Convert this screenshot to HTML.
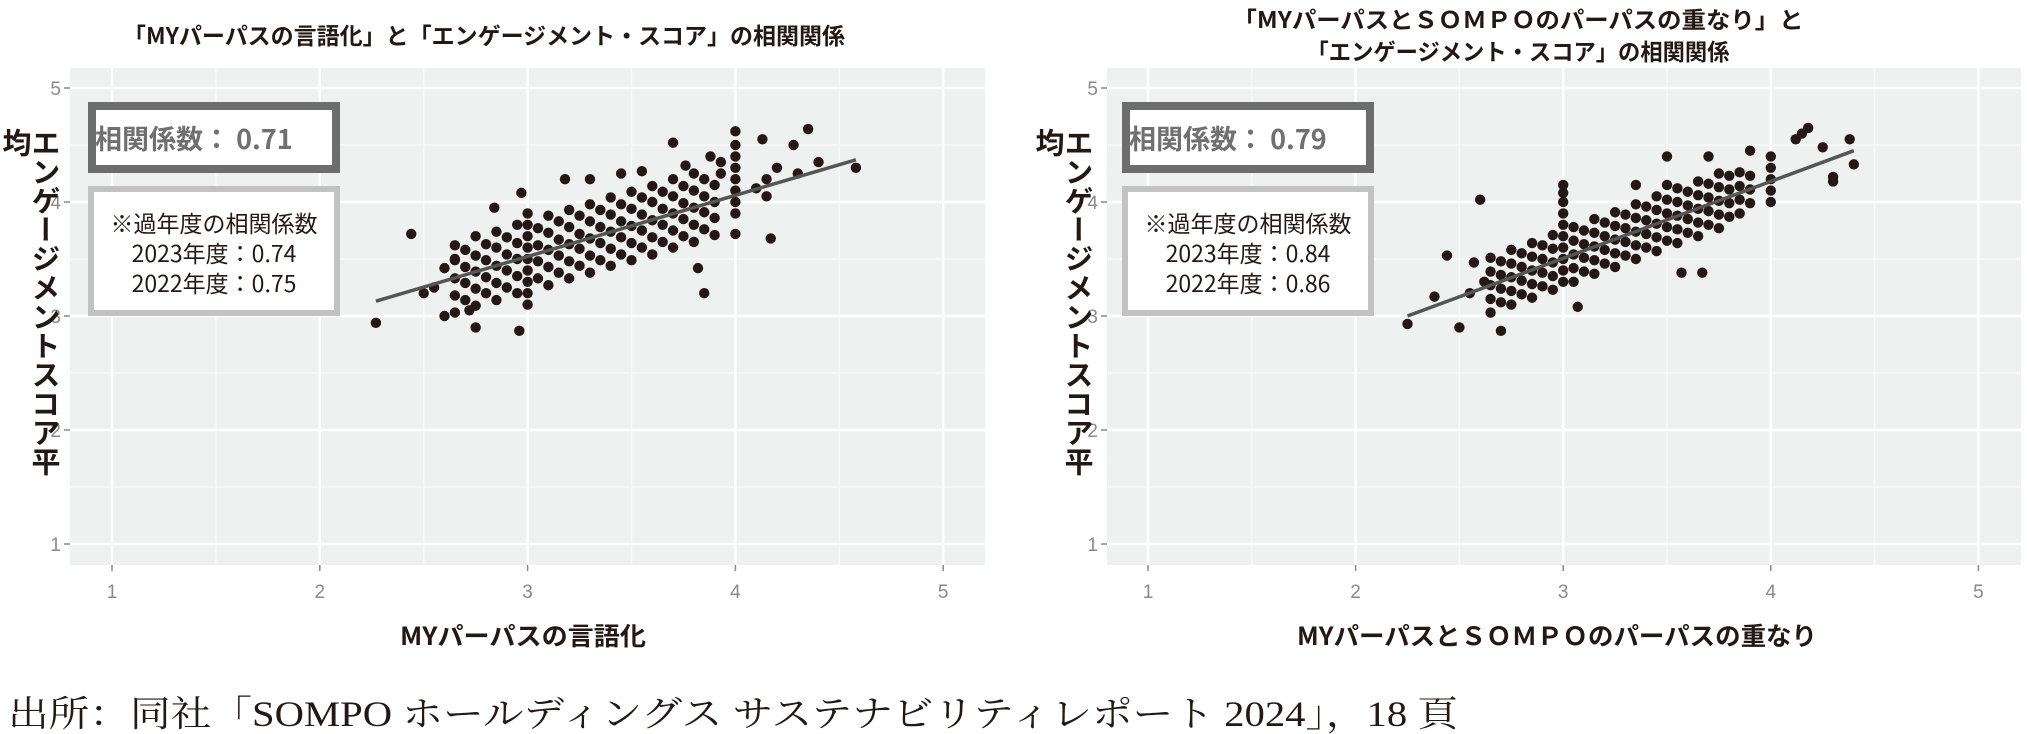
<!DOCTYPE html>
<html><head><meta charset="utf-8">
<style>
html,body{margin:0;padding:0;background:#fff;}
body{width:2027px;height:734px;overflow:hidden;position:relative;font-family:"Liberation Sans","Noto Sans CJK JP",sans-serif;}
.ytitle{position:absolute;writing-mode:vertical-rl;font-weight:bold;font-size:29px;color:#231815;letter-spacing:0px;font-family:"Noto Sans CJK JP",sans-serif;line-height:1;}
</style></head>
<body>
<svg id="svg" width="2027" height="734" xmlns="http://www.w3.org/2000/svg" style="position:absolute;left:0;top:0">
  <text x="484" y="44" text-anchor="middle" font-size="23" font-weight="bold" fill="#231815" textLength="722" lengthAdjust="spacingAndGlyphs" font-family="Noto Sans CJK JP, sans-serif">「MYパーパスの言語化」と「エンゲージメント・スコア」の相関関係</text>
  <text x="1518" y="28" text-anchor="middle" font-size="23" font-weight="bold" fill="#231815" textLength="571" lengthAdjust="spacingAndGlyphs" font-family="Noto Sans CJK JP, sans-serif">「MYパーパスとＳＯＭＰＯのパーパスの重なり」と</text>
  <text x="1518" y="60" text-anchor="middle" font-size="23" font-weight="bold" fill="#231815" textLength="423" lengthAdjust="spacingAndGlyphs" font-family="Noto Sans CJK JP, sans-serif">「エンゲージメント・スコア」の相関関係</text>
  <g id="chartA"></g>
  <g id="chartB"></g>
  <text x="523" y="645" text-anchor="middle" font-size="25" font-weight="bold" fill="#231815" textLength="246" lengthAdjust="spacingAndGlyphs" font-family="Noto Sans CJK JP, sans-serif">MYパーパスの言語化</text>
  <text x="1557" y="645" text-anchor="middle" font-size="25" font-weight="bold" fill="#231815" textLength="520" lengthAdjust="spacingAndGlyphs" font-family="Noto Sans CJK JP, sans-serif">MYパーパスとＳＯＭＰＯのパーパスの重なり</text>
  <text x="8" y="726" font-size="36" fill="#231815" textLength="1450" lengthAdjust="spacingAndGlyphs" font-family="Liberation Serif, Noto Serif CJK SC, serif">出所：同社「SOMPO ホールディングス サステナビリティレポート 2024」，18 頁</text>
</svg>
<div class="ytitle" style="left:2px;top:128px;height:362px;">エンゲージメントスコア平均</div>
<div class="ytitle" style="left:1035px;top:128px;height:362px;">エンゲージメントスコア平均</div>
<script>
const ticks = [1, 2, 3, 4, 5];
const tickLabels = ["1", "2", "3", "4", "5"];
const coefA = "相関係数： 0.71";
const coefB = "相関係数： 0.79";
const pastA = ["※過年度の相関係数", "2023年度：0.74", "2022年度：0.75"];
const pastB = ["※過年度の相関係数", "2023年度：0.84", "2022年度：0.86"];
const fitA = [[2.27, 3.13], [4.58, 4.37]];
const fitB = [[2.25, 3.0], [4.4, 4.45]];
const pointsA = [
[2.27,2.94],[2.44,3.72],[2.75,2.9],[2.96,2.87],[2.6,3.0],[2.72,3.05],[2.55,3.25],[2.5,3.2],[3.85,3.2],[3.82,3.42],[4.17,3.68],[4.35,4.64],[4.28,4.5],[4.0,4.62],[3.7,4.52],[4.13,4.55],[4.58,4.3],[4.4,4.35],[4.2,4.3],[4.15,4.2],[4.3,4.25],[4.1,4.12],[4.15,4.05],[4.0,3.72],[4.0,3.9],[4.0,4.0],[4.0,4.1],[4.0,4.2],[4.0,4.3],[4.0,4.4],[4.0,4.5],[3.93,4.35],[3.93,4.25],[2.97,4.08],[3.18,4.2],[3.3,4.2],[3.45,4.25],[3.55,4.27],[3.88,4.4],[3.76,4.32],[2.84,3.95],[2.6,3.42],[2.65,3.5],
[2.65,3.03],[2.65,3.18],[2.65,3.33],[2.65,3.49],[2.65,3.62],
[2.70,3.14],[2.70,3.29],[2.70,3.43],[2.70,3.58],
[2.75,3.09],[2.75,3.24],[2.75,3.39],[2.75,3.53],[2.75,3.70],
[2.80,3.20],[2.80,3.34],[2.80,3.49],[2.80,3.63],
[2.85,3.14],[2.85,3.29],[2.85,3.44],[2.85,3.60],[2.85,3.74],
[2.90,3.25],[2.90,3.40],[2.90,3.54],[2.90,3.69],
[2.95,3.20],[2.95,3.35],[2.95,3.50],[2.95,3.64],[2.95,3.80],
[3.00,3.10],[3.00,3.20],[3.00,3.30],[3.00,3.40],[3.00,3.50],[3.00,3.60],[3.00,3.70],[3.00,3.80],[3.00,3.90],
[3.05,3.33],[3.05,3.48],[3.05,3.62],[3.05,3.77],
[3.10,3.27],[3.10,3.43],[3.10,3.58],[3.10,3.73],[3.10,3.88],
[3.15,3.38],[3.15,3.53],[3.15,3.67],[3.15,3.83],
[3.20,3.33],[3.20,3.48],[3.20,3.63],[3.20,3.78],[3.20,3.93],
[3.25,3.44],[3.25,3.59],[3.25,3.72],[3.25,3.88],
[3.30,3.38],[3.30,3.53],[3.30,3.68],[3.30,3.83],[3.30,3.98],
[3.35,3.49],[3.35,3.64],[3.35,3.78],[3.35,3.93],
[3.40,3.44],[3.40,3.59],[3.40,3.74],[3.40,3.89],[3.40,4.04],
[3.45,3.54],[3.45,3.69],[3.45,3.83],[3.45,3.98],
[3.50,3.49],[3.50,3.64],[3.50,3.79],[3.50,3.94],[3.50,4.09],
[3.55,3.60],[3.55,3.75],[3.55,3.89],[3.55,4.04],
[3.60,3.54],[3.60,3.69],[3.60,3.84],[3.60,4.00],[3.60,4.14],
[3.65,3.65],[3.65,3.80],[3.65,3.94],[3.65,4.09],
[3.70,3.60],[3.70,3.75],[3.70,3.90],[3.70,4.05],[3.70,4.20],
[3.75,3.70],[3.75,3.85],[3.75,3.99],[3.75,4.14],
[3.80,3.65],[3.80,3.80],[3.80,3.95],[3.80,4.10],[3.80,4.25],
[3.85,3.76],[3.85,3.91],[3.85,4.05],[3.85,4.20],
[3.90,3.71],[3.90,3.86],[3.90,4.00],[3.90,4.15]
];
const pointsB = [
[2.25,2.93],[2.5,2.9],[2.7,2.87],[2.44,3.53],[2.6,4.02],[2.38,3.17],[3.07,3.08],[3.57,3.38],[3.67,3.38],[4.18,4.65],[4.15,4.6],[4.12,4.55],[4.25,4.48],[4.38,4.55],[4.4,4.33],[4.3,4.18],[4.3,4.22],[4.0,4.4],[4.0,4.3],[4.0,4.2],[4.0,4.1],[4.0,4.0],[3.5,4.4],[3.7,4.4],[3.9,4.45],[3.35,4.15],[3.0,4.15],[2.57,3.47],[2.62,3.3],[2.55,3.2],
[2.65,3.03],[2.65,3.15],[2.65,3.27],[2.65,3.39],[2.65,3.51],
[2.70,3.12],[2.70,3.24],[2.70,3.36],[2.70,3.48],
[2.75,3.10],[2.75,3.22],[2.75,3.34],[2.75,3.46],[2.75,3.58],
[2.80,3.19],[2.80,3.31],[2.80,3.43],[2.80,3.55],
[2.85,3.16],[2.85,3.28],[2.85,3.40],[2.85,3.52],[2.85,3.64],
[2.90,3.26],[2.90,3.38],[2.90,3.50],[2.90,3.62],
[2.95,3.23],[2.95,3.35],[2.95,3.47],[2.95,3.59],[2.95,3.71],
[3.00,3.30],[3.00,3.40],[3.00,3.50],[3.00,3.60],[3.00,3.70],[3.00,3.80],[3.00,3.90],[3.00,4.00],[3.00,4.08],
[3.05,3.30],[3.05,3.42],[3.05,3.54],[3.05,3.66],[3.05,3.78],
[3.10,3.39],[3.10,3.51],[3.10,3.63],[3.10,3.75],
[3.15,3.37],[3.15,3.49],[3.15,3.61],[3.15,3.73],[3.15,3.85],
[3.20,3.46],[3.20,3.58],[3.20,3.70],[3.20,3.82],
[3.25,3.43],[3.25,3.55],[3.25,3.67],[3.25,3.79],[3.25,3.91],
[3.30,3.53],[3.30,3.65],[3.30,3.77],[3.30,3.89],
[3.35,3.50],[3.35,3.62],[3.35,3.74],[3.35,3.86],[3.35,3.98],
[3.40,3.60],[3.40,3.72],[3.40,3.84],[3.40,3.96],
[3.45,3.57],[3.45,3.69],[3.45,3.81],[3.45,3.93],[3.45,4.05],
[3.50,3.66],[3.50,3.78],[3.50,3.90],[3.50,4.02],[3.50,4.15],
[3.55,3.64],[3.55,3.76],[3.55,3.88],[3.55,4.00],[3.55,4.12],
[3.60,3.73],[3.60,3.85],[3.60,3.97],[3.60,4.09],
[3.65,3.70],[3.65,3.82],[3.65,3.94],[3.65,4.06],[3.65,4.18],
[3.70,3.80],[3.70,3.92],[3.70,4.04],[3.70,4.16],
[3.75,3.77],[3.75,3.89],[3.75,4.01],[3.75,4.13],[3.75,4.25],
[3.80,3.87],[3.80,3.99],[3.80,4.11],[3.80,4.23],
[3.85,3.90],[3.85,4.02],[3.85,4.14],[3.85,4.26],
[3.90,3.99],[3.90,4.11],[3.90,4.23]
];

const NS = "http://www.w3.org/2000/svg";
function mk(parent, tag, attrs) {
  const e = document.createElementNS(NS, tag);
  for (const k in attrs) e.setAttribute(k, attrs[k]);
  parent.appendChild(e);
  return e;
}
function drawChart(g, cfg, points, fit, coef, past) {
  const X = v => cfg.x1 + (v - 1) * cfg.ux;
  const Y = v => cfg.y1 - (v - 1) * cfg.uy;
  const bg = mk(g, "rect", {x: cfg.px0, y: 68, width: cfg.px1 - cfg.px0, height: 497, fill: "#eff0f0"});
  
  
  for (let i = 0; i < ticks.length - 1; i++) {
    const m = (ticks[i] + ticks[i + 1]) / 2;
    const gx = mk(g, "line", {x1: X(m), x2: X(m), y1: 68, y2: 565, stroke: "#f8f8f8", "stroke-width": 1.5});
    
    
    const gy = mk(g, "line", {x1: cfg.px0, x2: cfg.px1, y1: Y(m), y2: Y(m), stroke: "#f8f8f8", "stroke-width": 1.5});
    
    
  }
  ticks.forEach((t, i) => {
    const gx = mk(g, "line", {x1: X(t), x2: X(t), y1: 68, y2: 565, stroke: "#ffffff", "stroke-width": 2.5});
    
    
    const gy = mk(g, "line", {x1: cfg.px0, x2: cfg.px1, y1: Y(t), y2: Y(t), stroke: "#ffffff", "stroke-width": 2.5});
    
    
    const tx = mk(g, "line", {x1: X(t), x2: X(t), y1: 565, y2: 571, stroke: "#888", "stroke-width": 1.5});
    
    
    const ty = mk(g, "line", {x1: cfg.px0 - 6, x2: cfg.px0, y1: Y(t), y2: Y(t), stroke: "#888", "stroke-width": 1.5});
    
    
    const lx = mk(g, "text", {x: X(t), y: 598, "text-anchor": "middle", "font-size": 19, fill: "#8a8a8a"});
    lx.textContent = tickLabels[i];
    
    
    const ly = mk(g, "text", {x: cfg.px0 - 9, y: Y(t) + 7, "text-anchor": "end", "font-size": 19, fill: "#8a8a8a"});
    ly.textContent = tickLabels[i];
    
    
  });
  points.forEach(p => {
    const c = mk(g, "circle", {cx: X(p[0]), cy: Y(p[1]), r: 5.2, fill: "#231815"});
    
    
  });
  const fl = mk(g, "line", {x1: X(fit[0][0]), y1: Y(fit[0][1]), x2: X(fit[1][0]), y2: Y(fit[1][1]), stroke: "#555", "stroke-width": 3.5});
  
  
  const b1 = mk(g, "rect", {x: cfg.bx + 4, y: 106, width: 244, height: 63, fill: "#fff", stroke: "#6d6d6d", "stroke-width": 8});
  
  
  const t1 = mk(g, "text", {x: cfg.bx + 7, y: 149, "font-size": 27, "font-weight": "bold", fill: "#707070", "font-family": "Noto Sans CJK JP, sans-serif"});
  t1.textContent = coef;
  
  
  const b2 = mk(g, "rect", {x: cfg.bx + 3, y: 189, width: 246, height: 124, fill: "#fff", stroke: "#c2c2c2", "stroke-width": 6});
  
  
  past.forEach((s, i) => {
    const t = mk(g, "text", {x: cfg.bx + 126, y: 232 + i * 30, "text-anchor": "middle", "font-size": 23, fill: "#231815", "font-family": "Noto Sans CJK JP, sans-serif"});
    t.textContent = s;
    
    
  });
}
drawChart(document.getElementById("chartA"), {px0: 70, px1: 985, x1: 112, ux: 207.8, y1: 544, uy: 114, bx: 88}, pointsA, fitA, coefA, pastA);
drawChart(document.getElementById("chartB"), {px0: 1107, px1: 2021, x1: 1148, ux: 207.6, y1: 544, uy: 114, bx: 1122}, pointsB, fitB, coefB, pastB);
</script>
</body></html>
